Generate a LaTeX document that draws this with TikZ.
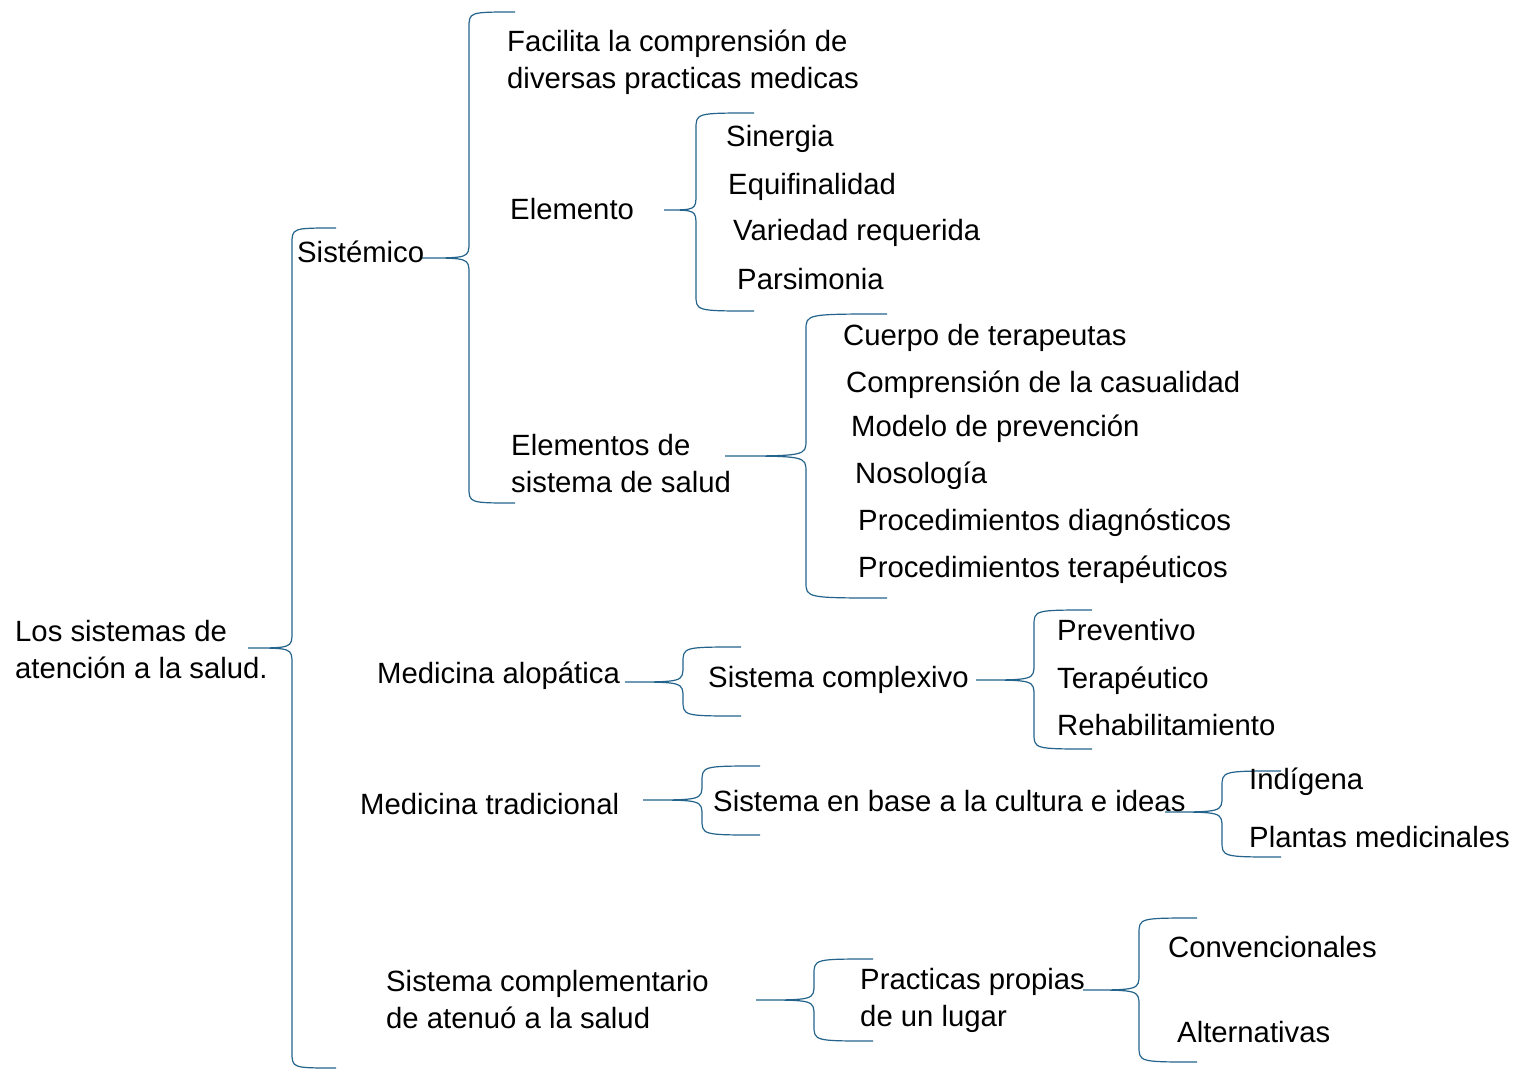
\documentclass[tikz,border=0pt]{standalone}
\usepackage{fontspec}
\setmainfont{Liberation Sans}
\definecolor{braceblue}{HTML}{24648C}
\tikzset{
  item/.style={anchor=base west, inner sep=0pt, align=left,
    font=\fontsize{29.3}{36.5}\selectfont},
  bracestyle/.style={draw=braceblue, line width=1.2pt}
}
% tip x, tip y, line x, top y, bottom y, end x
\newcommand{\wordbrace}[6]{%
  \draw[bracestyle] (#6,#4) .. controls (#3,#4) .. (#3,#4+16) -- (#3,#2-16)
    .. controls (#3,#2) .. (#1,#2) .. controls (#3,#2) .. (#3,#2+16)
    -- (#3,#5-16) .. controls (#3,#5) .. (#6,#5);}

\begin{document}
\begin{tikzpicture}[x=1pt,y=-1pt]
\useasboundingbox[fill=white] (0,0) rectangle (1517,1079);

% Braces
\wordbrace{248}{648}{292}{228}{1068}{336}
\wordbrace{422}{258}{469}{12}{503}{515}
\wordbrace{664}{210}{696}{113}{311}{754}
\wordbrace{725}{456}{806}{314}{598}{887}
\wordbrace{625}{682}{683}{647}{716}{741}
\wordbrace{976}{680}{1034}{610}{749}{1092}
\wordbrace{643}{800}{702}{766}{835}{760}
\wordbrace{1165}{812}{1222}{771}{857}{1281}
\wordbrace{756}{1000}{814}{959}{1041}{873}
\wordbrace{1083}{990}{1139}{918}{1062}{1197}

% Labels (base of a two-line label is its last line)
\node[item] (root) at (15,678) {Los sistemas de\\atención a la salud.};
\node[item] (sistemico) at (297,262) {Sistémico};
\node[item] (facilita) at (507,88) {Facilita la comprensión de\\diversas practicas medicas};
\node[item] (elemento) at (510,219) {Elemento};
\node[item] (sinergia) at (726,146) {Sinergia};
\node[item] (equifinalidad) at (728,194) {Equifinalidad};
\node[item] (variedad) at (733,240) {Variedad requerida};
\node[item] (parsimonia) at (737,289) {Parsimonia};
\node[item] (elemsalud) at (511,492) {Elementos de\\sistema de salud};
\node[item] (cuerpo) at (843,345) {Cuerpo de terapeutas};
\node[item] (comprension) at (846,392) {Comprensión de la casualidad};
\node[item] (modelo) at (851,436) {Modelo de prevención};
\node[item] (nosologia) at (855,483) {Nosología};
\node[item] (procdiag) at (858,530) {Procedimientos diagnósticos};
\node[item] (procter) at (858,577) {Procedimientos terapéuticos};
\node[item] (alopatica) at (377,683) {Medicina alopática};
\node[item] (complexivo) at (708,687) {Sistema complexivo};
\node[item] (preventivo) at (1057,640) {Preventivo};
\node[item] (terapeutico) at (1057,688) {Terapéutico};
\node[item] (rehab) at (1057,735) {Rehabilitamiento};
\node[item] (tradicional) at (360,814) {Medicina tradicional};
\node[item] (cultura) at (713,811) {Sistema en base a la cultura e ideas};
\node[item] (indigena) at (1249,789) {Indígena};
\node[item] (plantas) at (1249,847) {Plantas medicinales};
\node[item] (complementario) at (386,1028) {Sistema complementario\\de atenuó a la salud};
\node[item] (practicas) at (860,1026) {Practicas propias\\de un lugar};
\node[item] (convencionales) at (1168,957) {Convencionales};
\node[item] (alternativas) at (1177,1042) {Alternativas};
\end{tikzpicture}
\end{document}
